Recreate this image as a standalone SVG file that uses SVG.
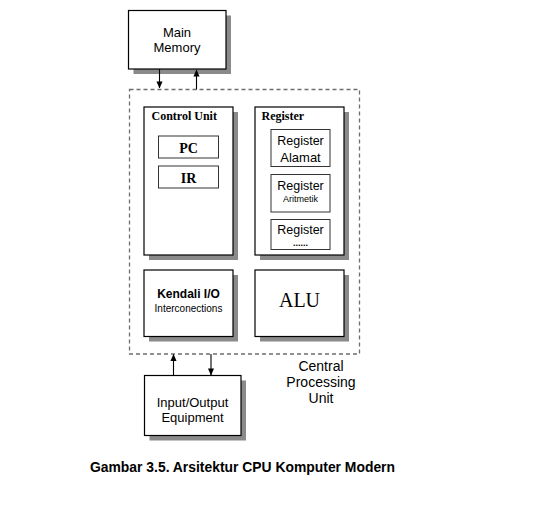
<svg xmlns="http://www.w3.org/2000/svg" width="543" height="514" viewBox="0 0 543 514">
<defs>
<style>
.box{fill:#fff;stroke:#000;stroke-width:1.2}
.sub{fill:#fff;stroke:#333;stroke-width:1}
.sh{fill:#8a8a8a}
.sans{font-family:"Liberation Sans",Arial,sans-serif;fill:#000}
.serif{font-family:"Liberation Serif","Times New Roman",serif;fill:#000}
.c{text-anchor:middle}
.conn{stroke:#000;stroke-width:1.1;fill:none}
</style>
<marker id="ah" viewBox="0 0 8 8" refX="7.5" refY="4" markerWidth="7" markerHeight="7" markerUnits="userSpaceOnUse" orient="auto">
<path d="M0,0.5 L8,4 L0,7.5 Z" fill="#000"/>
</marker>
</defs>
<rect width="543" height="514" fill="#fff"/>

<g id="cpu">
<rect x="129.5" y="89.5" width="230" height="264.5" fill="none" stroke="#6e6e6e" stroke-width="1.3" stroke-dasharray="4,3"/>
<text class="sans c" x="321" y="371" font-size="14">Central</text>
<text class="sans c" x="321" y="387" font-size="14">Processing</text>
<text class="sans c" x="321" y="403" font-size="14">Unit</text>
</g>

<g id="main-memory">
<rect class="sh" x="133.5" y="15.5" width="97.5" height="58.5"/>
<rect class="box" x="128.5" y="10.5" width="97.5" height="58.5"/>
<text class="sans c" x="177" y="37" font-size="13">Main</text>
<text class="sans c" x="177" y="52" font-size="13">Memory</text>
</g>

<g id="control-unit">
<rect class="sh" x="149" y="112" width="89" height="148"/>
<rect class="box" x="144" y="107" width="89" height="148"/>
<text class="serif" x="151.5" y="120" font-size="12" font-weight="bold">Control Unit</text>
</g>
<g id="pc">
<rect class="sub" x="158.5" y="136" width="60" height="22"/>
<text class="serif c" x="188.5" y="152.5" font-size="14" font-weight="bold">PC</text>
</g>
<g id="ir">
<rect class="sub" x="158.5" y="166" width="60" height="22"/>
<text class="serif c" x="188.5" y="182.5" font-size="14" font-weight="bold">IR</text>
</g>

<g id="register">
<rect class="sh" x="260" y="112" width="89" height="148"/>
<rect class="box" x="255" y="107" width="89" height="148"/>
<text class="serif" x="261.5" y="120" font-size="12" font-weight="bold">Register</text>
</g>
<g id="register-alamat">
<rect class="sub" x="271" y="129.5" width="59" height="37"/>
<text class="sans c" x="300.5" y="145" font-size="12.5">Register</text>
<text class="sans c" x="300.5" y="161.5" font-size="13">Alamat</text>
</g>
<g id="register-aritmetik">
<rect class="sub" x="271" y="174.5" width="59" height="37.5"/>
<text class="sans c" x="300.5" y="189.5" font-size="12.5">Register</text>
<text class="sans c" x="300.5" y="201.5" font-size="9">Aritmetik</text>
</g>
<g id="register-other">
<rect class="sub" x="271" y="219.5" width="59" height="30"/>
<text class="sans c" x="300.5" y="234" font-size="12.5">Register</text>
<text class="sans c" x="300.5" y="245.5" font-size="9" font-weight="bold">......</text>
</g>

<g id="kendali-io">
<rect class="sh" x="149" y="275" width="89" height="66.5"/>
<rect class="box" x="144" y="270" width="89" height="66.5"/>
<text class="sans c" x="188.5" y="298" font-size="12" font-weight="bold">Kendali I/O</text>
<text class="sans c" x="188.5" y="311.5" font-size="10">Interconections</text>
</g>

<g id="alu">
<rect class="sh" x="260" y="275" width="89" height="66.5"/>
<rect class="box" x="255" y="270" width="89" height="66.5"/>
<text class="serif c" x="299.5" y="307" font-size="20">ALU</text>
</g>

<g id="io-equipment">
<rect class="sh" x="149.5" y="380.5" width="96.5" height="60"/>
<rect class="box" x="144.5" y="375.5" width="96.5" height="60"/>
<text class="sans c" x="192.5" y="406.5" font-size="13">Input/Output</text>
<text class="sans c" x="192.5" y="422" font-size="13">Equipment</text>
</g>

<g id="connectors">
<line class="conn" x1="159.5" y1="69" x2="159.5" y2="88" marker-end="url(#ah)"/>
<line class="conn" x1="196.5" y1="89.5" x2="196.5" y2="70" marker-end="url(#ah)"/>
<line class="conn" x1="173.5" y1="375.5" x2="173.5" y2="354.5" marker-end="url(#ah)"/>
<line class="conn" x1="211" y1="354" x2="211" y2="375" marker-end="url(#ah)"/>
</g>

<text class="sans" x="90" y="472" font-size="15" font-weight="bold" textLength="305" lengthAdjust="spacingAndGlyphs">Gambar 3.5. Arsitektur CPU Komputer Modern</text>
</svg>
